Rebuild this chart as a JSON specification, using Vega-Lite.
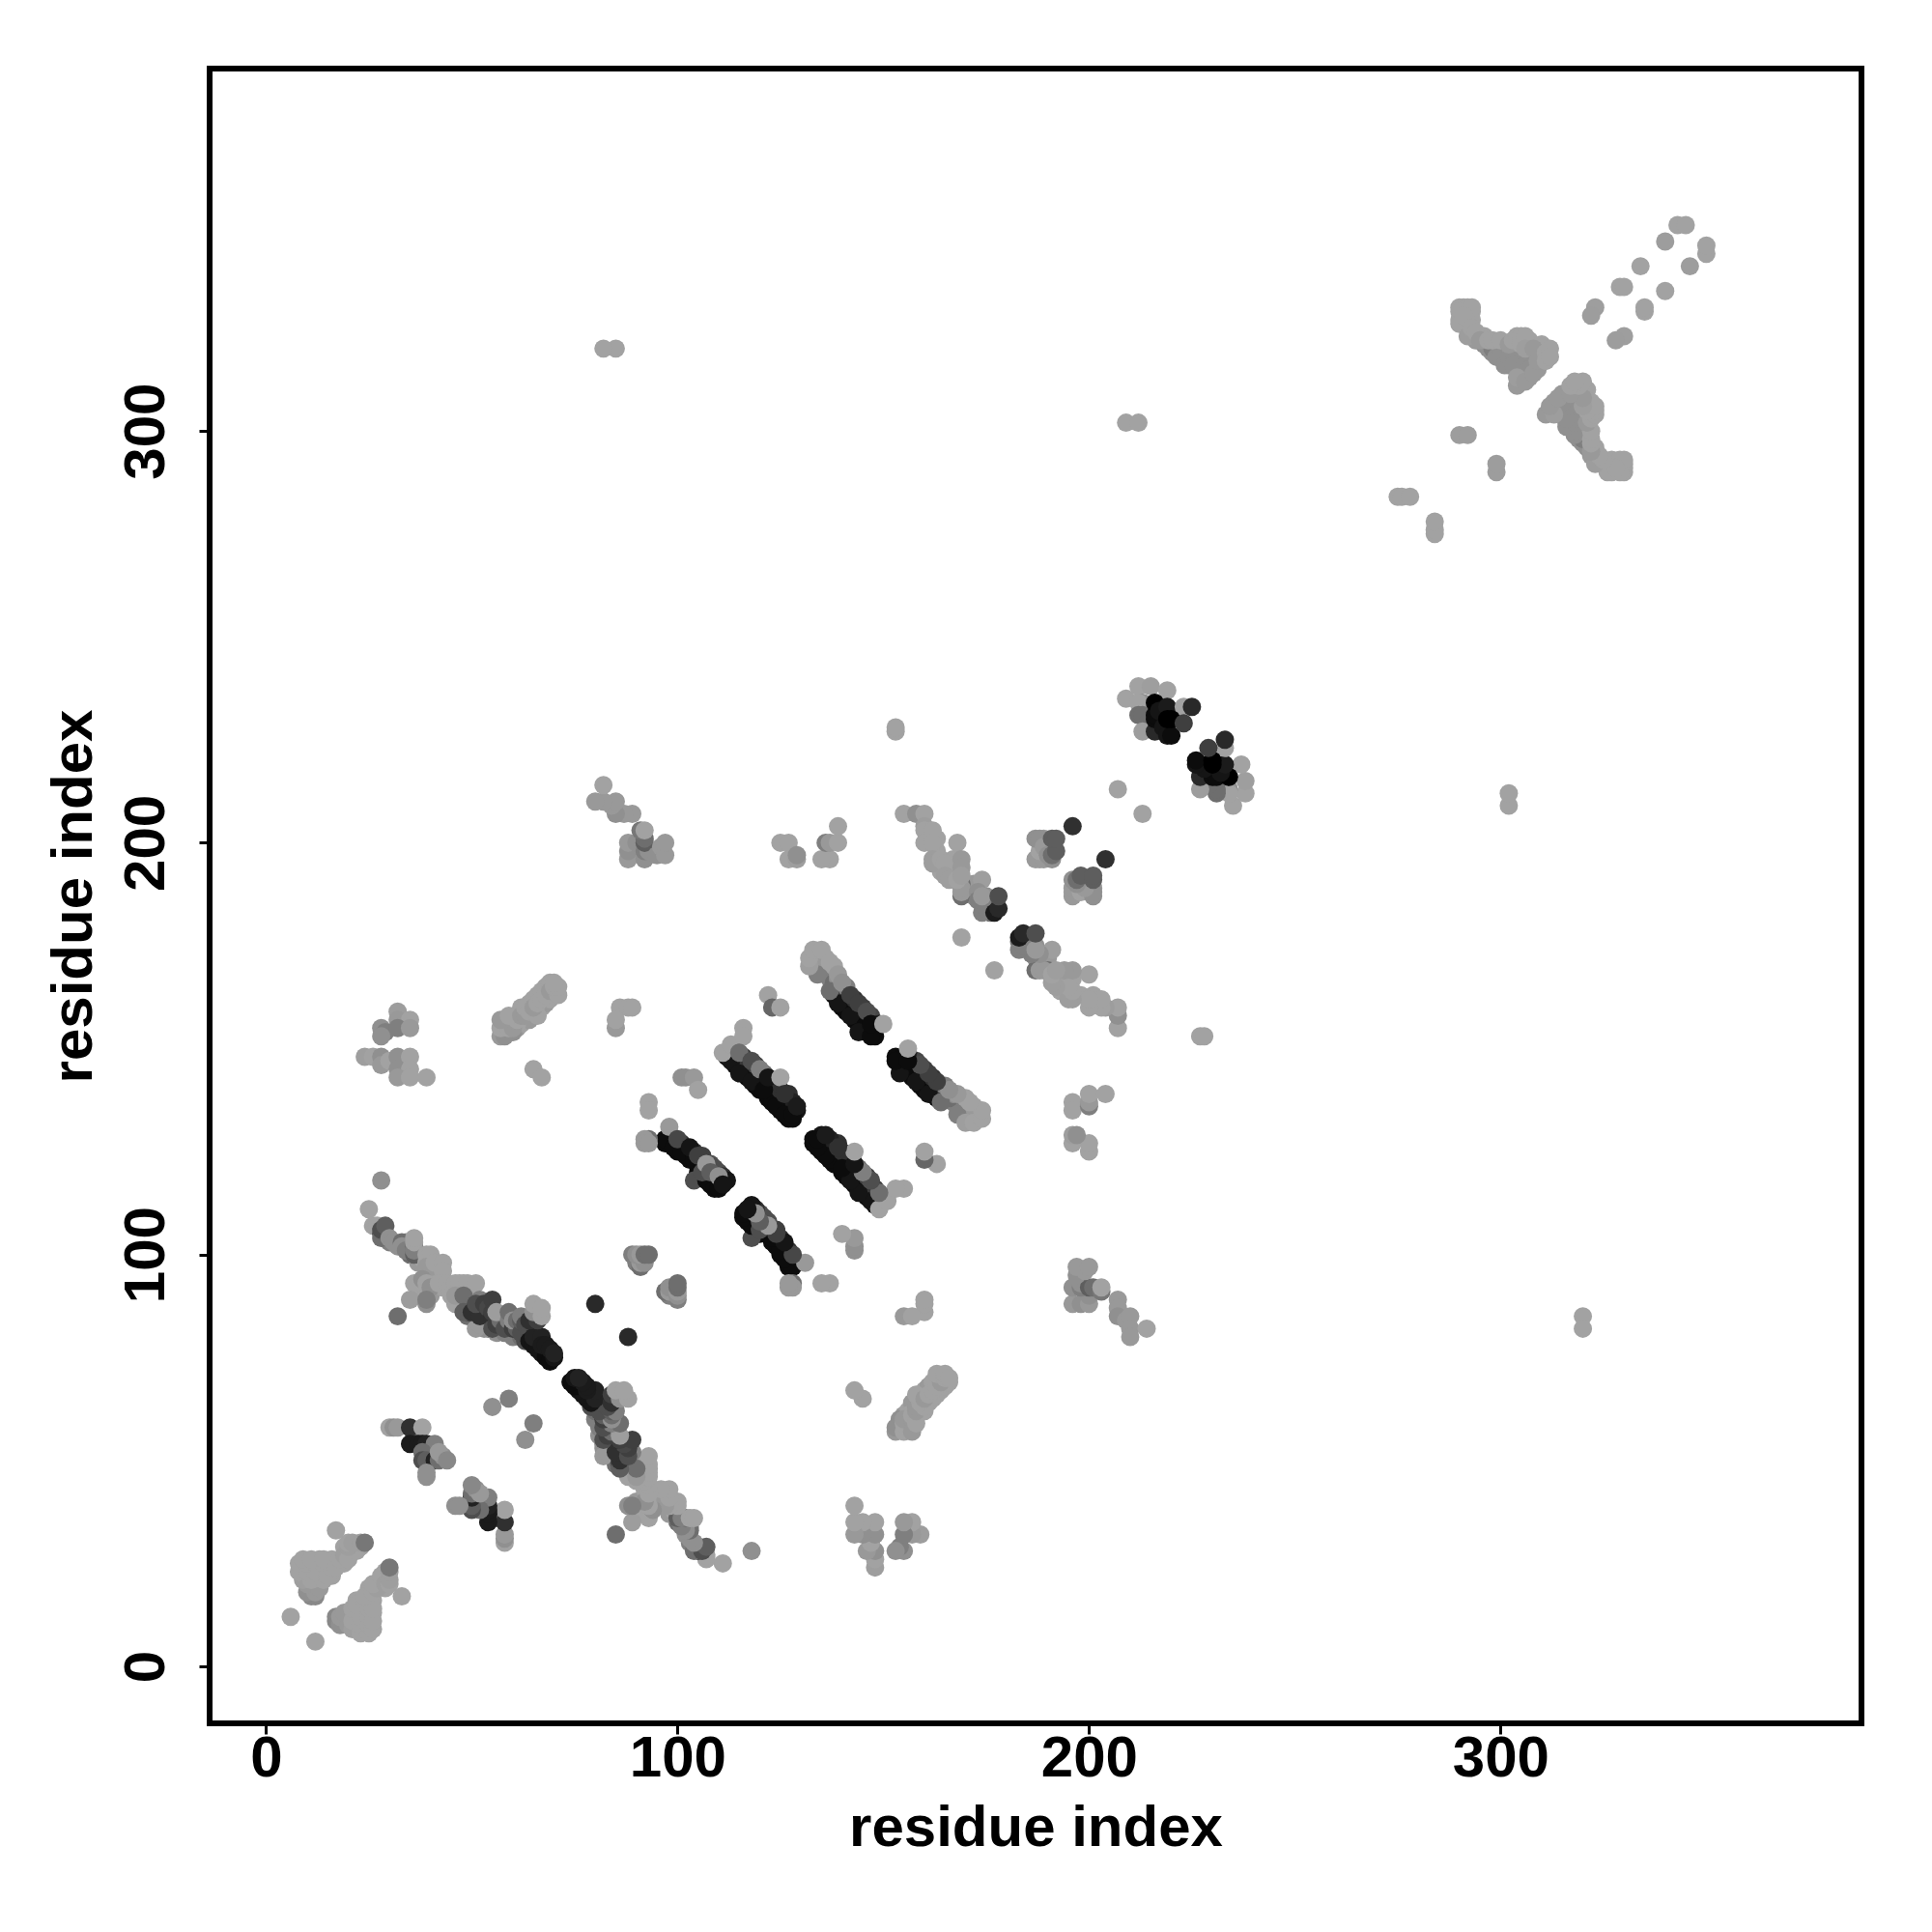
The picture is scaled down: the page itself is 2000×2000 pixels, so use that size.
{"$schema":"https://vega.github.io/schema/vega-lite/v6.json","autosize":{"type":"none"},"padding":{"left":217,"top":71,"right":73,"bottom":216},"width":1710,"height":1713,"background":"white","view":{"stroke":"black","strokeWidth":6,"fill":null},"config":{"font":"Liberation Sans"},
"data":{"values":[
{"x":98,"y":127,"s":0.95},{"x":127,"y":98,"s":0.95},{"x":100,"y":125,"s":0.95},{"x":125,"y":100,"s":0.95},{"x":102,"y":124,"s":0.95},{"x":124,"y":102,"s":0.95},{"x":103,"y":123,"s":0.95},{"x":123,"y":103,"s":0.95},{"x":105,"y":122,"s":0.95},{"x":122,"y":105,"s":0.95},{"x":105,"y":120,"s":0.95},{"x":120,"y":105,"s":0.95},{"x":106,"y":119,"s":0.95},{"x":119,"y":106,"s":0.95},{"x":107,"y":120,"s":0.95},{"x":120,"y":107,"s":0.95},{"x":109,"y":118,"s":0.95},{"x":118,"y":109,"s":0.95},{"x":110,"y":117,"s":0.95},{"x":117,"y":110,"s":0.95},
{"x":101,"y":127,"s":0.7},{"x":127,"y":101,"s":0.7},{"x":102,"y":126,"s":0.75},{"x":126,"y":102,"s":0.75},{"x":104,"y":125,"s":0.7},{"x":125,"y":104,"s":0.7},{"x":106,"y":124,"s":0.6},{"x":124,"y":106,"s":0.6},{"x":108,"y":122,"s":0.5},{"x":122,"y":108,"s":0.5},{"x":109,"y":121,"s":0.5},{"x":121,"y":109,"s":0.5},{"x":110,"y":120,"s":0.5},{"x":120,"y":110,"s":0.5},{"x":111,"y":119,"s":0.7},{"x":119,"y":111,"s":0.7},{"x":112,"y":118,"s":0.9},{"x":118,"y":112,"s":0.9},
{"x":112,"y":148,"s":0.95},{"x":148,"y":112,"s":0.95},{"x":114,"y":146,"s":0.95},{"x":146,"y":114,"s":0.95},{"x":116,"y":144,"s":0.95},{"x":144,"y":116,"s":0.95},{"x":117,"y":143,"s":0.95},{"x":143,"y":117,"s":0.95},{"x":119,"y":141,"s":0.95},{"x":141,"y":119,"s":0.95},{"x":120,"y":140,"s":0.95},{"x":140,"y":120,"s":0.95},{"x":122,"y":138,"s":0.95},{"x":138,"y":122,"s":0.95},{"x":123,"y":137,"s":0.95},{"x":137,"y":123,"s":0.95},{"x":125,"y":135,"s":0.95},{"x":135,"y":125,"s":0.95},{"x":127,"y":133,"s":0.95},{"x":133,"y":127,"s":0.95},{"x":128,"y":133,"s":0.95},{"x":133,"y":128,"s":0.95},
{"x":114,"y":149,"s":0.5},{"x":149,"y":114,"s":0.5},{"x":116,"y":148,"s":0.6},{"x":148,"y":116,"s":0.6},{"x":117,"y":147,"s":0.65},{"x":147,"y":117,"s":0.65},{"x":119,"y":146,"s":0.6},{"x":146,"y":119,"s":0.6},{"x":121,"y":144,"s":0.3},{"x":144,"y":121,"s":0.3},{"x":123,"y":142,"s":0.8},{"x":142,"y":123,"s":0.8},{"x":124,"y":141,"s":0.75},{"x":141,"y":124,"s":0.75},{"x":125,"y":140,"s":0.7},{"x":140,"y":125,"s":0.7},{"x":127,"y":139,"s":0.7},{"x":139,"y":127,"s":0.7},{"x":128,"y":137,"s":0.8},{"x":137,"y":128,"s":0.8},{"x":129,"y":135,"s":0.9},{"x":135,"y":129,"s":0.9},
{"x":138,"y":163,"s":0.95},{"x":163,"y":138,"s":0.95},{"x":140,"y":160,"s":0.95},{"x":160,"y":140,"s":0.95},{"x":141,"y":159,"s":0.95},{"x":159,"y":141,"s":0.95},{"x":143,"y":157,"s":0.95},{"x":157,"y":143,"s":0.95},{"x":145,"y":155,"s":0.95},{"x":155,"y":145,"s":0.95},{"x":146,"y":154,"s":0.95},{"x":154,"y":146,"s":0.95},{"x":148,"y":153,"s":0.95},{"x":153,"y":148,"s":0.95},{"x":148,"y":155,"s":0.95},{"x":155,"y":148,"s":0.95},
{"x":141,"y":164,"s":0.6},{"x":164,"y":141,"s":0.6},{"x":143,"y":162,"s":0.7},{"x":162,"y":143,"s":0.7},{"x":145,"y":160,"s":0.6},{"x":160,"y":145,"s":0.6},{"x":147,"y":158,"s":0.55},{"x":158,"y":147,"s":0.55},{"x":149,"y":156,"s":0.8},{"x":156,"y":149,"s":0.8},{"x":135,"y":170,"s":0.15},{"x":170,"y":135,"s":0.15},{"x":134,"y":171,"s":0.1},{"x":171,"y":134,"s":0.1},{"x":136,"y":168,"s":0.1},{"x":168,"y":136,"s":0.1},{"x":137,"y":167,"s":0.2},{"x":167,"y":137,"s":0.2},{"x":138,"y":166,"s":0.3},{"x":166,"y":138,"s":0.3},{"x":136,"y":172,"s":0},{"x":172,"y":136,"s":0},{"x":138,"y":170,"s":0},{"x":170,"y":138,"s":0},{"x":139,"y":167,"s":0.1},{"x":167,"y":139,"s":0.1},{"x":141,"y":165,"s":0.2},{"x":165,"y":141,"s":0.2},{"x":133,"y":171,"s":0.05},{"x":171,"y":133,"s":0.05},
{"x":49,"y":88,"s":0.4},{"x":88,"y":49,"s":0.4},{"x":50,"y":89,"s":0.3},{"x":89,"y":50,"s":0.3},{"x":49,"y":85,"s":0.3},{"x":85,"y":49,"s":0.3},{"x":49,"y":86,"s":0.6},{"x":86,"y":49,"s":0.6},{"x":51,"y":85,"s":0.5},{"x":85,"y":51,"s":0.5},{"x":53,"y":84,"s":0.2},{"x":84,"y":53,"s":0.2},{"x":54,"y":84,"s":0.3},{"x":84,"y":54,"s":0.3},{"x":54,"y":82,"s":0.2},{"x":82,"y":54,"s":0.2},{"x":53,"y":82,"s":0.1},{"x":82,"y":53,"s":0.1},{"x":56,"y":81,"s":0.1},{"x":81,"y":56,"s":0.1},{"x":57,"y":82,"s":0.05},{"x":82,"y":57,"s":0.05},{"x":58,"y":81,"s":0.2},{"x":81,"y":58,"s":0.2},{"x":59,"y":82,"s":0.5},{"x":82,"y":59,"s":0.5},{"x":60,"y":80,"s":0.2},{"x":80,"y":60,"s":0.2},{"x":62,"y":80,"s":0.3},{"x":80,"y":62,"s":0.3},{"x":63,"y":79,"s":0.5},{"x":79,"y":63,"s":0.5},{"x":63,"y":81,"s":0.7},{"x":81,"y":63,"s":0.7},{"x":65,"y":82,"s":0.6},{"x":82,"y":65,"s":0.6},
{"x":29,"y":105,"s":0.4},{"x":105,"y":29,"s":0.4},{"x":30,"y":103,"s":0.2},{"x":103,"y":30,"s":0.2},{"x":32,"y":102,"s":0.1},{"x":102,"y":32,"s":0.1},{"x":34,"y":103,"s":0.1},{"x":103,"y":34,"s":0.1},{"x":35,"y":100,"s":0.3},{"x":100,"y":35,"s":0.3},{"x":37,"y":100,"s":0.2},{"x":100,"y":37,"s":0.2},{"x":37,"y":98,"s":0.05},{"x":98,"y":37,"s":0.05},{"x":38,"y":99,"s":0},{"x":99,"y":38,"s":0},{"x":41,"y":96,"s":0},{"x":96,"y":41,"s":0},{"x":41,"y":97,"s":0},{"x":97,"y":41,"s":0},{"x":42,"y":95,"s":0},{"x":95,"y":42,"s":0},{"x":37,"y":90,"s":0},{"x":90,"y":37,"s":0},{"x":37,"y":93,"s":0},{"x":93,"y":37,"s":0},{"x":40,"y":90,"s":0.05},{"x":90,"y":40,"s":0.05},{"x":41,"y":94,"s":0},{"x":94,"y":41,"s":0},{"x":43,"y":92,"s":0},{"x":92,"y":43,"s":0},{"x":48,"y":93,"s":0},{"x":93,"y":48,"s":0},{"x":50,"y":92,"s":0},{"x":92,"y":50,"s":0},{"x":47,"y":88,"s":0.1},{"x":88,"y":47,"s":0.1},{"x":46,"y":88,"s":0},{"x":88,"y":46,"s":0},
{"x":13,"y":22,"s":0},{"x":22,"y":13,"s":0},{"x":13,"y":24,"s":0},{"x":24,"y":13,"s":0},{"x":11,"y":19,"s":0.05},{"x":19,"y":11,"s":0.05},{"x":9,"y":24,"s":0},{"x":24,"y":9,"s":0},{"x":11,"y":24,"s":0},{"x":24,"y":11,"s":0},{"x":15,"y":24,"s":0},{"x":24,"y":15,"s":0},{"x":13,"y":26,"s":0},{"x":26,"y":13,"s":0},{"x":12,"y":21,"s":0},{"x":21,"y":12,"s":0},{"x":12,"y":20,"s":0},{"x":20,"y":12,"s":0},{"x":14,"y":23,"s":0},{"x":23,"y":14,"s":0},{"x":16,"y":26,"s":0},{"x":26,"y":16,"s":0},{"x":19,"y":25,"s":0},{"x":25,"y":19,"s":0},{"x":19,"y":29,"s":0},{"x":29,"y":19,"s":0},{"x":21,"y":28,"s":0},{"x":28,"y":21,"s":0},{"x":23,"y":29,"s":0},{"x":29,"y":23,"s":0},{"x":10,"y":22,"s":0},{"x":22,"y":10,"s":0},{"x":16,"y":22,"s":0},{"x":22,"y":16,"s":0},
{"x":293,"y":327,"s":0},{"x":327,"y":293,"s":0},{"x":292,"y":326,"s":0},{"x":326,"y":292,"s":0},{"x":294,"y":322,"s":0.05},{"x":322,"y":294,"s":0.05},{"x":296,"y":323,"s":0},{"x":323,"y":296,"s":0},{"x":298,"y":319,"s":0.1},{"x":319,"y":298,"s":0.1},{"x":299,"y":321,"s":0.1},{"x":321,"y":299,"s":0.1},{"x":301,"y":318,"s":0.1},{"x":318,"y":301,"s":0.1},{"x":302,"y":316,"s":0.1},{"x":316,"y":302,"s":0.1},{"x":304,"y":318,"s":0.1},{"x":318,"y":304,"s":0.1},{"x":305,"y":317,"s":0.1},{"x":317,"y":305,"s":0.1},{"x":304,"y":315,"s":0.1},{"x":315,"y":304,"s":0.1},{"x":305,"y":313,"s":0.05},{"x":313,"y":305,"s":0.05},{"x":307,"y":313,"s":0.05},{"x":313,"y":307,"s":0.05},{"x":305,"y":320,"s":0.05},{"x":320,"y":305,"s":0.05},{"x":307,"y":318,"s":0.1},{"x":318,"y":307,"s":0.1},{"x":308,"y":316,"s":0.05},{"x":316,"y":308,"s":0.05},{"x":309,"y":315,"s":0.05},{"x":315,"y":309,"s":0.05},{"x":310,"y":318,"s":0},{"x":318,"y":310,"s":0},{"x":310,"y":321,"s":0},{"x":321,"y":310,"s":0},{"x":307,"y":322,"s":0},{"x":322,"y":307,"s":0},{"x":292,"y":328,"s":0},{"x":328,"y":292,"s":0},{"x":293,"y":329,"s":0},{"x":329,"y":293,"s":0},{"x":291,"y":326,"s":0},{"x":326,"y":291,"s":0},
{"x":189,"y":201,"s":0.05},{"x":201,"y":189,"s":0.05},{"x":190,"y":198,"s":0.1},{"x":198,"y":190,"s":0.1},{"x":188,"y":196,"s":0.02},{"x":196,"y":188,"s":0.02},{"x":191,"y":199,"s":0.3},{"x":199,"y":191,"s":0.3},
{"x":58,"y":155,"s":0.05},{"x":155,"y":58,"s":0.05},{"x":61,"y":155,"s":0.05},{"x":155,"y":61,"s":0.05},{"x":62,"y":156,"s":0},{"x":156,"y":62,"s":0},{"x":62,"y":160,"s":0},{"x":160,"y":62,"s":0},{"x":64,"y":161,"s":0},{"x":161,"y":64,"s":0},{"x":65,"y":162,"s":0},{"x":162,"y":65,"s":0},{"x":66,"y":163,"s":0},{"x":163,"y":66,"s":0},{"x":67,"y":164,"s":0},{"x":164,"y":67,"s":0},{"x":68,"y":165,"s":0},{"x":165,"y":68,"s":0},{"x":67,"y":160,"s":0},{"x":160,"y":67,"s":0},{"x":68,"y":161,"s":0.05},{"x":161,"y":68,"s":0.05},{"x":69,"y":162,"s":0},{"x":162,"y":69,"s":0},{"x":69,"y":166,"s":0},{"x":166,"y":69,"s":0},{"x":64,"y":157,"s":0.05},{"x":157,"y":64,"s":0.05},{"x":66,"y":160,"s":0.05},{"x":160,"y":66,"s":0.05},{"x":60,"y":154,"s":0.1},{"x":154,"y":60,"s":0.1},{"x":61,"y":156,"s":0},{"x":156,"y":61,"s":0},
{"x":163,"y":198,"s":0},{"x":198,"y":163,"s":0},{"x":164,"y":193,"s":0},{"x":193,"y":164,"s":0},{"x":167,"y":192,"s":0},{"x":192,"y":167,"s":0},{"x":167,"y":194,"s":0},{"x":194,"y":167,"s":0},{"x":167,"y":196,"s":0},{"x":196,"y":167,"s":0},{"x":163,"y":201,"s":0},{"x":201,"y":163,"s":0},{"x":161,"y":201,"s":0},{"x":201,"y":161,"s":0},{"x":166,"y":193,"s":0},{"x":193,"y":166,"s":0},{"x":170,"y":190,"s":0.05},{"x":190,"y":170,"s":0.05},{"x":171,"y":188,"s":0.05},{"x":188,"y":171,"s":0.05},{"x":172,"y":187,"s":0.1},{"x":187,"y":172,"s":0.1},{"x":172,"y":190,"s":0.05},{"x":190,"y":172,"s":0.05},{"x":175,"y":187,"s":0.1},{"x":187,"y":175,"s":0.1},{"x":175,"y":186,"s":0.2},{"x":186,"y":175,"s":0.2},{"x":176,"y":183,"s":0.3},{"x":183,"y":176,"s":0.3},
{"x":11,"y":17,"s":0.15},{"x":17,"y":11,"s":0.15},{"x":12,"y":17,"s":0.15},{"x":17,"y":12,"s":0.15},{"x":10,"y":18,"s":0.1},{"x":18,"y":10,"s":0.1},{"x":12,"y":18,"s":0.05},{"x":18,"y":12,"s":0.05},{"x":10,"y":20,"s":0.05},{"x":20,"y":10,"s":0.05},{"x":13,"y":19,"s":0.05},{"x":19,"y":13,"s":0.05},{"x":9,"y":21,"s":0.02},{"x":21,"y":9,"s":0.02},{"x":11,"y":21,"s":0},{"x":21,"y":11,"s":0},{"x":14,"y":21,"s":0},{"x":21,"y":14,"s":0},{"x":8,"y":23,"s":0},{"x":23,"y":8,"s":0},{"x":10,"y":23,"s":0},{"x":23,"y":10,"s":0},{"x":12,"y":23,"s":0},{"x":23,"y":12,"s":0},{"x":15,"y":22,"s":0},{"x":22,"y":15,"s":0},{"x":8,"y":25,"s":0},{"x":25,"y":8,"s":0},{"x":10,"y":25,"s":0},{"x":25,"y":10,"s":0},{"x":12,"y":25,"s":0},{"x":25,"y":12,"s":0},{"x":14,"y":25,"s":0},{"x":25,"y":14,"s":0},{"x":16,"y":24,"s":0},{"x":24,"y":16,"s":0},{"x":9,"y":26,"s":0},{"x":26,"y":9,"s":0},{"x":11,"y":26,"s":0},{"x":26,"y":11,"s":0},{"x":14,"y":26,"s":0},{"x":26,"y":14,"s":0},{"x":17,"y":24,"s":0},{"x":24,"y":17,"s":0},{"x":18,"y":26,"s":0},{"x":26,"y":18,"s":0},{"x":19,"y":27,"s":0.02},{"x":27,"y":19,"s":0.02},{"x":20,"y":26,"s":0},{"x":26,"y":20,"s":0},{"x":22,"y":28,"s":0},{"x":28,"y":22,"s":0},{"x":20,"y":29,"s":0.02},{"x":29,"y":20,"s":0.02},{"x":20,"y":30,"s":0},{"x":30,"y":20,"s":0},{"x":21,"y":30,"s":0.02},{"x":30,"y":21,"s":0.02},{"x":23,"y":30,"s":0.02},{"x":30,"y":23,"s":0.02},{"x":24,"y":30,"s":0.25},{"x":30,"y":24,"s":0.25},{"x":17,"y":33,"s":0},{"x":33,"y":17,"s":0},{"x":6,"y":12,"s":0},{"x":12,"y":6,"s":0},
{"x":30,"y":58,"s":0},{"x":58,"y":30,"s":0},{"x":31,"y":58,"s":0.1},{"x":58,"y":31,"s":0.1},{"x":32,"y":58,"s":0.05},{"x":58,"y":32,"s":0.05},{"x":36,"y":56,"s":0.3},{"x":56,"y":36,"s":0.3},{"x":35,"y":58,"s":0.7},{"x":58,"y":35,"s":0.7},{"x":38,"y":58,"s":0},{"x":58,"y":38,"s":0},{"x":35,"y":54,"s":0.85},{"x":54,"y":35,"s":0.85},{"x":37,"y":54,"s":0.85},{"x":54,"y":37,"s":0.85},{"x":38,"y":54,"s":0.85},{"x":54,"y":38,"s":0.85},{"x":39,"y":54,"s":0.8},{"x":54,"y":39,"s":0.8},{"x":41,"y":54,"s":0.2},{"x":54,"y":41,"s":0.2},{"x":38,"y":52,"s":0.3},{"x":52,"y":38,"s":0.3},{"x":38,"y":50,"s":0.5},{"x":50,"y":38,"s":0.5},{"x":39,"y":50,"s":0.4},{"x":50,"y":39,"s":0.4},{"x":41,"y":50,"s":0.8},{"x":50,"y":41,"s":0.8},{"x":42,"y":50,"s":0.3},{"x":50,"y":42,"s":0.3},{"x":43,"y":51,"s":0.1},{"x":51,"y":43,"s":0.1},{"x":42,"y":52,"s":0.05},{"x":52,"y":42,"s":0.05},{"x":44,"y":50,"s":0.15},{"x":50,"y":44,"s":0.15},{"x":39,"y":46,"s":0.1},{"x":46,"y":39,"s":0.1},{"x":39,"y":47,"s":0.1},{"x":47,"y":39,"s":0.1},
{"x":59,"y":65,"s":0.2},{"x":65,"y":59,"s":0.2},{"x":55,"y":63,"s":0.1},{"x":63,"y":55,"s":0.1},{"x":80,"y":88,"s":0.75},{"x":88,"y":80,"s":0.75},
{"x":25,"y":111,"s":0},{"x":111,"y":25,"s":0},{"x":26,"y":107,"s":0},{"x":107,"y":26,"s":0},{"x":27,"y":107,"s":0},{"x":107,"y":27,"s":0},{"x":28,"y":105,"s":0.5},{"x":105,"y":28,"s":0.5},{"x":28,"y":104,"s":0.3},{"x":104,"y":28,"s":0.3},{"x":28,"y":106,"s":0.5},{"x":106,"y":28,"s":0.5},{"x":29,"y":107,"s":0.4},{"x":107,"y":29,"s":0.4},{"x":30,"y":104,"s":0.1},{"x":104,"y":30,"s":0.1},{"x":31,"y":103,"s":0.1},{"x":103,"y":31,"s":0.1},{"x":33,"y":103,"s":0.3},{"x":103,"y":33,"s":0.3},{"x":33,"y":102,"s":0.1},{"x":102,"y":33,"s":0.1},{"x":34,"y":101,"s":0.2},{"x":101,"y":34,"s":0.2},{"x":36,"y":100,"s":0.4},{"x":100,"y":36,"s":0.4},{"x":36,"y":102,"s":0.3},{"x":102,"y":36,"s":0.3},{"x":36,"y":101,"s":0.2},{"x":101,"y":36,"s":0.2},{"x":36,"y":103,"s":0},{"x":103,"y":36,"s":0},{"x":36,"y":104,"s":0},{"x":104,"y":36,"s":0},{"x":39,"y":100,"s":0},{"x":100,"y":39,"s":0},{"x":40,"y":100,"s":0},{"x":100,"y":40,"s":0},{"x":39,"y":98,"s":0},{"x":98,"y":39,"s":0},{"x":40,"y":97,"s":0.05},{"x":97,"y":40,"s":0.05},{"x":39,"y":97,"s":0.05},{"x":97,"y":39,"s":0.05},{"x":41,"y":98,"s":0},{"x":98,"y":41,"s":0},{"x":43,"y":98,"s":0},{"x":98,"y":43,"s":0},{"x":43,"y":96,"s":0},{"x":96,"y":43,"s":0},{"x":36,"y":93,"s":0},{"x":93,"y":36,"s":0},{"x":38,"y":94,"s":0.1},{"x":94,"y":38,"s":0.1},{"x":39,"y":93,"s":0},{"x":93,"y":39,"s":0},{"x":40,"y":92,"s":0.1},{"x":92,"y":40,"s":0.1},{"x":42,"y":93,"s":0},{"x":93,"y":42,"s":0},{"x":44,"y":93,"s":0},{"x":93,"y":44,"s":0},{"x":45,"y":92,"s":0},{"x":92,"y":45,"s":0},{"x":46,"y":93,"s":0},{"x":93,"y":46,"s":0},{"x":47,"y":93,"s":0},{"x":93,"y":47,"s":0},{"x":49,"y":93,"s":0},{"x":93,"y":49,"s":0},{"x":51,"y":93,"s":0},{"x":93,"y":51,"s":0},{"x":35,"y":89,"s":0.03},{"x":89,"y":35,"s":0.03},{"x":39,"y":88,"s":0.1},{"x":88,"y":39,"s":0.1},{"x":39,"y":89,"s":0.2},{"x":89,"y":39,"s":0.2},{"x":32,"y":85,"s":0.3},{"x":85,"y":32,"s":0.3},{"x":28,"y":118,"s":0.1},{"x":118,"y":28,"s":0.1},{"x":45,"y":90,"s":0},{"x":90,"y":45,"s":0},{"x":46,"y":90,"s":0.05},{"x":90,"y":46,"s":0.05},
{"x":48,"y":90,"s":0.3},{"x":90,"y":48,"s":0.3},{"x":51,"y":82,"s":0.05},{"x":82,"y":51,"s":0.05},{"x":52,"y":83,"s":0.05},{"x":83,"y":52,"s":0.05},{"x":48,"y":86,"s":0.4},{"x":86,"y":48,"s":0.4},{"x":50,"y":86,"s":0.7},{"x":86,"y":50,"s":0.7},{"x":52,"y":86,"s":0.7},{"x":86,"y":52,"s":0.7},{"x":52,"y":85,"s":0.7},{"x":85,"y":52,"s":0.7},{"x":52,"y":89,"s":0.2},{"x":89,"y":52,"s":0.2},{"x":51,"y":88,"s":0.5},{"x":88,"y":51,"s":0.5},{"x":53,"y":88,"s":0.6},{"x":88,"y":53,"s":0.6},{"x":54,"y":87,"s":0.55},{"x":87,"y":54,"s":0.55},{"x":55,"y":89,"s":0.6},{"x":89,"y":55,"s":0.6},{"x":55,"y":85,"s":0.7},{"x":85,"y":55,"s":0.7},{"x":55,"y":82,"s":0.5},{"x":82,"y":55,"s":0.5},{"x":56,"y":83,"s":0.6},{"x":83,"y":56,"s":0.6},{"x":55,"y":86,"s":0.6},{"x":86,"y":55,"s":0.6},{"x":57,"y":85,"s":0.2},{"x":85,"y":57,"s":0.2},{"x":57,"y":84,"s":0.3},{"x":84,"y":57,"s":0.3},{"x":58,"y":82,"s":0.5},{"x":82,"y":58,"s":0.5},{"x":56,"y":86,"s":0.03},{"x":86,"y":56,"s":0.03},{"x":59,"y":84,"s":0.2},{"x":84,"y":59,"s":0.2},{"x":59,"y":86,"s":0.3},{"x":86,"y":59,"s":0.3},{"x":60,"y":82,"s":0.6},{"x":82,"y":60,"s":0.6},{"x":61,"y":82,"s":0.4},{"x":82,"y":61,"s":0.4},{"x":60,"y":84,"s":0.1},{"x":84,"y":60,"s":0.1},{"x":61,"y":84,"s":0.3},{"x":84,"y":61,"s":0.3},{"x":62,"y":81,"s":0.5},{"x":81,"y":62,"s":0.5},{"x":62,"y":84,"s":0.4},{"x":84,"y":62,"s":0.4},{"x":62,"y":85,"s":0.2},{"x":85,"y":62,"s":0.2},{"x":63,"y":83,"s":0.5},{"x":83,"y":63,"s":0.5},
{"x":64,"y":81,"s":0.5},{"x":81,"y":64,"s":0.5},{"x":64,"y":79,"s":0.9},{"x":79,"y":64,"s":0.9},{"x":65,"y":78,"s":0.9},{"x":78,"y":65,"s":0.9},{"x":66,"y":77,"s":0.9},{"x":77,"y":66,"s":0.9},{"x":67,"y":76,"s":0.9},{"x":76,"y":67,"s":0.9},{"x":68,"y":75,"s":0.95},{"x":75,"y":68,"s":0.95},{"x":69,"y":74,"s":0.95},{"x":74,"y":69,"s":0.95},{"x":66,"y":79,"s":0.9},{"x":79,"y":66,"s":0.9},{"x":65,"y":80,"s":0.8},{"x":80,"y":65,"s":0.8},{"x":67,"y":80,"s":0.8},{"x":80,"y":67,"s":0.8},{"x":67,"y":78,"s":0.85},{"x":78,"y":67,"s":0.85},{"x":68,"y":78,"s":0.85},{"x":78,"y":68,"s":0.85},{"x":69,"y":77,"s":0.85},{"x":77,"y":69,"s":0.85},{"x":70,"y":75,"s":0.9},{"x":75,"y":70,"s":0.9},{"x":70,"y":76,"s":0.8},{"x":76,"y":70,"s":0.8},{"x":64,"y":84,"s":0.7},{"x":84,"y":64,"s":0.7},{"x":66,"y":84,"s":0.6},{"x":84,"y":66,"s":0.6},{"x":65,"y":86,"s":0.1},{"x":86,"y":65,"s":0.1},{"x":67,"y":85,"s":0},{"x":85,"y":67,"s":0},{"x":65,"y":88,"s":0},{"x":88,"y":65,"s":0},{"x":67,"y":87,"s":0},{"x":87,"y":67,"s":0},
{"x":89,"y":100,"s":0.2},{"x":100,"y":89,"s":0.2},{"x":90,"y":98,"s":0.2},{"x":98,"y":90,"s":0.2},{"x":91,"y":97,"s":0.3},{"x":97,"y":91,"s":0.3},{"x":91,"y":98,"s":0.05},{"x":98,"y":91,"s":0.05},{"x":92,"y":98,"s":0.1},{"x":98,"y":92,"s":0.1},{"x":90,"y":100,"s":0.1},{"x":100,"y":90,"s":0.1},{"x":91,"y":100,"s":0.05},{"x":100,"y":91,"s":0.05},{"x":92,"y":100,"s":0.3},{"x":100,"y":92,"s":0.3},{"x":93,"y":100,"s":0.3},{"x":100,"y":93,"s":0.3},
{"x":97,"y":127,"s":0.95},{"x":127,"y":97,"s":0.95},{"x":97,"y":128,"s":0.95},{"x":128,"y":97,"s":0.95},{"x":99,"y":126,"s":0.95},{"x":126,"y":99,"s":0.95},{"x":101,"y":125,"s":0.95},{"x":125,"y":101,"s":0.95},{"x":104,"y":123,"s":0.95},{"x":123,"y":104,"s":0.95},{"x":106,"y":122,"s":0.95},{"x":122,"y":106,"s":0.95},{"x":107,"y":121,"s":0.95},{"x":121,"y":107,"s":0.95},{"x":104,"y":118,"s":0.5},{"x":118,"y":104,"s":0.5},{"x":107,"y":118,"s":0.95},{"x":118,"y":107,"s":0.95},{"x":108,"y":117,"s":0.95},{"x":117,"y":108,"s":0.95},{"x":109,"y":116,"s":0.95},{"x":116,"y":109,"s":0.95},{"x":110,"y":116,"s":0.95},{"x":116,"y":110,"s":0.95},{"x":98,"y":131,"s":0.05},{"x":131,"y":98,"s":0.05},{"x":100,"y":128,"s":0.55},{"x":128,"y":100,"s":0.55},{"x":103,"y":126,"s":0.9},{"x":126,"y":103,"s":0.9},{"x":105,"y":124,"s":0.6},{"x":124,"y":105,"s":0.6},{"x":106,"y":120,"s":0.5},{"x":120,"y":106,"s":0.5},{"x":107,"y":122,"s":0.05},{"x":122,"y":107,"s":0.05},{"x":108,"y":120,"s":0.4},{"x":120,"y":108,"s":0.4},{"x":110,"y":119,"s":0.1},{"x":119,"y":110,"s":0.1},{"x":111,"y":117,"s":0.9},{"x":117,"y":111,"s":0.9},
{"x":93,"y":128,"s":0.3},{"x":128,"y":93,"s":0.3},{"x":92,"y":128,"s":0.05},{"x":128,"y":92,"s":0.05},{"x":92,"y":127,"s":0.05},{"x":127,"y":92,"s":0.05},{"x":93,"y":127,"s":0.05},{"x":127,"y":93,"s":0.05},{"x":93,"y":137,"s":0},{"x":137,"y":93,"s":0},{"x":93,"y":135,"s":0},{"x":135,"y":93,"s":0},{"x":101,"y":143,"s":0.1},{"x":143,"y":101,"s":0.1},{"x":102,"y":143,"s":0.1},{"x":143,"y":102,"s":0.1},{"x":104,"y":143,"s":0.05},{"x":143,"y":104,"s":0.05},{"x":105,"y":140,"s":0},{"x":140,"y":105,"s":0},
{"x":113,"y":147,"s":0.9},{"x":147,"y":113,"s":0.9},{"x":115,"y":144,"s":0.9},{"x":144,"y":115,"s":0.9},{"x":118,"y":142,"s":0.9},{"x":142,"y":118,"s":0.9},{"x":121,"y":140,"s":0.95},{"x":140,"y":121,"s":0.95},{"x":124,"y":136,"s":0.95},{"x":136,"y":124,"s":0.95},{"x":126,"y":134,"s":0.95},{"x":134,"y":126,"s":0.95},{"x":111,"y":149,"s":0},{"x":149,"y":111,"s":0},{"x":113,"y":151,"s":0},{"x":151,"y":113,"s":0},{"x":116,"y":155,"s":0},{"x":155,"y":116,"s":0},{"x":116,"y":153,"s":0},{"x":153,"y":116,"s":0},{"x":115,"y":149,"s":0.3},{"x":149,"y":115,"s":0.3},{"x":118,"y":147,"s":0.5},{"x":147,"y":118,"s":0.5},{"x":120,"y":145,"s":0.2},{"x":145,"y":120,"s":0.2},{"x":122,"y":143,"s":0.9},{"x":143,"y":122,"s":0.9},{"x":125,"y":143,"s":0},{"x":143,"y":125,"s":0},{"x":126,"y":139,"s":0.7},{"x":139,"y":126,"s":0.7},{"x":128,"y":134,"s":0.95},{"x":134,"y":128,"s":0.95},{"x":129,"y":136,"s":0.85},{"x":136,"y":129,"s":0.85},
{"x":122,"y":163,"s":0},{"x":163,"y":122,"s":0},{"x":123,"y":160,"s":0.35},{"x":160,"y":123,"s":0.35},{"x":125,"y":160,"s":0},{"x":160,"y":125,"s":0},{"x":86,"y":160,"s":0},{"x":160,"y":86,"s":0},{"x":88,"y":160,"s":0},{"x":160,"y":88,"s":0},{"x":85,"y":155,"s":0.05},{"x":155,"y":85,"s":0.05},{"x":85,"y":157,"s":0},{"x":157,"y":85,"s":0},{"x":89,"y":160,"s":0},{"x":160,"y":89,"s":0},
{"x":139,"y":161,"s":0.9},{"x":161,"y":139,"s":0.9},{"x":142,"y":158,"s":0.9},{"x":158,"y":142,"s":0.9},{"x":144,"y":154,"s":0.9},{"x":154,"y":144,"s":0.9},{"x":147,"y":153,"s":0.95},{"x":153,"y":147,"s":0.95},{"x":137,"y":164,"s":0.3},{"x":164,"y":137,"s":0.3},{"x":134,"y":168,"s":0.2},{"x":168,"y":134,"s":0.2},{"x":132,"y":170,"s":0.02},{"x":170,"y":132,"s":0.02},{"x":132,"y":172,"s":0},{"x":172,"y":132,"s":0},{"x":133,"y":174,"s":0},{"x":174,"y":133,"s":0},{"x":135,"y":174,"s":0},{"x":174,"y":135,"s":0},{"x":137,"y":171,"s":0},{"x":171,"y":137,"s":0},{"x":139,"y":168,"s":0.05},{"x":168,"y":139,"s":0.05},{"x":140,"y":166,"s":0.1},{"x":166,"y":140,"s":0.1},{"x":142,"y":163,"s":0.6},{"x":163,"y":142,"s":0.6},{"x":144,"y":161,"s":0.6},{"x":161,"y":144,"s":0.6},{"x":146,"y":159,"s":0.5},{"x":159,"y":146,"s":0.5},{"x":147,"y":156,"s":0.95},{"x":156,"y":147,"s":0.95},{"x":150,"y":156,"s":0},{"x":156,"y":150,"s":0},
{"x":169,"y":177,"s":0},{"x":177,"y":169,"s":0},{"x":137,"y":196,"s":0},{"x":196,"y":137,"s":0},{"x":135,"y":196,"s":0},{"x":196,"y":135,"s":0},{"x":136,"y":200,"s":0.2},{"x":200,"y":136,"s":0.2},{"x":137,"y":200,"s":0.05},{"x":200,"y":137,"s":0.05},{"x":139,"y":200,"s":0},{"x":200,"y":139,"s":0},{"x":139,"y":204,"s":0},{"x":204,"y":139,"s":0},{"x":125,"y":200,"s":0},{"x":200,"y":125,"s":0},{"x":127,"y":200,"s":0},{"x":200,"y":127,"s":0},{"x":127,"y":196,"s":0},{"x":196,"y":127,"s":0},{"x":129,"y":196,"s":0.02},{"x":196,"y":129,"s":0.02},{"x":129,"y":197,"s":0.1},{"x":197,"y":129,"s":0.1},
{"x":88,"y":196,"s":0.05},{"x":196,"y":88,"s":0.05},{"x":88,"y":198,"s":0.1},{"x":198,"y":88,"s":0.1},{"x":88,"y":200,"s":0.05},{"x":200,"y":88,"s":0.05},{"x":90,"y":200,"s":0.1},{"x":200,"y":90,"s":0.1},{"x":92,"y":196,"s":0.1},{"x":196,"y":92,"s":0.1},{"x":92,"y":198,"s":0.2},{"x":198,"y":92,"s":0.2},{"x":93,"y":198,"s":0.1},{"x":198,"y":93,"s":0.1},{"x":92,"y":200,"s":0.4},{"x":200,"y":92,"s":0.4},{"x":92,"y":201,"s":0.3},{"x":201,"y":92,"s":0.3},{"x":91,"y":203,"s":0.25},{"x":203,"y":91,"s":0.25},{"x":92,"y":203,"s":0},{"x":203,"y":92,"s":0},{"x":95,"y":197,"s":0.1},{"x":197,"y":95,"s":0.1},{"x":96,"y":199,"s":0.05},{"x":199,"y":96,"s":0.05},{"x":97,"y":197,"s":0.05},{"x":197,"y":97,"s":0.05},{"x":97,"y":200,"s":0.05},{"x":200,"y":97,"s":0.05},{"x":89,"y":207,"s":0.05},{"x":207,"y":89,"s":0.05},{"x":87,"y":207,"s":0.05},{"x":207,"y":87,"s":0.05},{"x":85,"y":207,"s":0.1},{"x":207,"y":85,"s":0.1},{"x":84,"y":209,"s":0.05},{"x":209,"y":84,"s":0.05},{"x":85,"y":210,"s":0.05},{"x":210,"y":85,"s":0.05},{"x":82,"y":210,"s":0.05},{"x":210,"y":82,"s":0.05},{"x":80,"y":210,"s":0.05},{"x":210,"y":80,"s":0.05},{"x":82,"y":214,"s":0},{"x":214,"y":82,"s":0},
{"x":85,"y":320,"s":0},{"x":320,"y":85,"s":0},{"x":82,"y":320,"s":0},{"x":320,"y":82,"s":0},{"x":209,"y":302,"s":0},{"x":302,"y":209,"s":0},{"x":212,"y":302,"s":0},{"x":302,"y":212,"s":0},{"x":153,"y":227,"s":0},{"x":227,"y":153,"s":0},{"x":153,"y":228,"s":0},{"x":228,"y":153,"s":0},
{"x":209,"y":235,"s":0},{"x":235,"y":209,"s":0},{"x":212,"y":238,"s":0},{"x":238,"y":212,"s":0},{"x":215,"y":238,"s":0.02},{"x":238,"y":215,"s":0.02},{"x":219,"y":237,"s":0},{"x":237,"y":219,"s":0},{"x":213,"y":234,"s":0.1},{"x":234,"y":213,"s":0.1},{"x":212,"y":234,"s":0},{"x":234,"y":212,"s":0},{"x":212,"y":231,"s":0.3},{"x":231,"y":212,"s":0.3},{"x":213,"y":231,"s":0.3},{"x":231,"y":213,"s":0.3},{"x":214,"y":229,"s":0.3},{"x":229,"y":214,"s":0.3},{"x":213,"y":227,"s":0.03},{"x":227,"y":213,"s":0.03},{"x":216,"y":227,"s":0.75},{"x":227,"y":216,"s":0.75},{"x":216,"y":230,"s":0.95},{"x":230,"y":216,"s":0.95},{"x":216,"y":231,"s":0.95},{"x":231,"y":216,"s":0.95},{"x":216,"y":234,"s":1},{"x":234,"y":216,"s":1},{"x":218,"y":228,"s":0.9},{"x":228,"y":218,"s":0.9},{"x":217,"y":232,"s":0.9},{"x":232,"y":217,"s":0.9},{"x":219,"y":233,"s":0.85},{"x":233,"y":219,"s":0.85},{"x":219,"y":226,"s":0.9},{"x":226,"y":219,"s":0.9},{"x":220,"y":226,"s":0.95},{"x":226,"y":220,"s":0.95},{"x":223,"y":233,"s":0},{"x":233,"y":223,"s":0},{"x":219,"y":230,"s":1},{"x":230,"y":219,"s":1},{"x":220,"y":230,"s":1},{"x":230,"y":220,"s":1},{"x":223,"y":229,"s":0.6},{"x":229,"y":223,"s":0.6},{"x":225,"y":233,"s":0.75},{"x":233,"y":225,"s":0.75},
{"x":207,"y":213,"s":0},{"x":213,"y":207,"s":0},{"x":196,"y":204,"s":0.7},{"x":204,"y":196,"s":0.7},
{"x":187,"y":196,"s":0.05},{"x":196,"y":187,"s":0.05},{"x":189,"y":196,"s":0.05},{"x":196,"y":189,"s":0.05},{"x":188,"y":198,"s":0},{"x":198,"y":188,"s":0},{"x":187,"y":201,"s":0.1},{"x":201,"y":187,"s":0.1},{"x":188,"y":201,"s":0.1},{"x":201,"y":188,"s":0.1},{"x":189,"y":199,"s":0.05},{"x":199,"y":189,"s":0.05},{"x":191,"y":196,"s":0.1},{"x":196,"y":191,"s":0.1},{"x":190,"y":197,"s":0.1},{"x":197,"y":190,"s":0.1},{"x":191,"y":197,"s":0.3},{"x":197,"y":191,"s":0.3},{"x":192,"y":198,"s":0.4},{"x":198,"y":192,"s":0.4},{"x":191,"y":201,"s":0.4},{"x":201,"y":191,"s":0.4},{"x":192,"y":201,"s":0.4},{"x":201,"y":192,"s":0.4},
{"x":169,"y":187,"s":0.3},{"x":187,"y":169,"s":0.3},{"x":169,"y":188,"s":0.05},{"x":188,"y":169,"s":0.05},{"x":169,"y":190,"s":0.3},{"x":190,"y":169,"s":0.3},{"x":169,"y":189,"s":0.05},{"x":189,"y":169,"s":0.05},{"x":155,"y":207,"s":0},{"x":207,"y":155,"s":0},{"x":158,"y":207,"s":0.1},{"x":207,"y":158,"s":0.1},{"x":160,"y":207,"s":0},{"x":207,"y":160,"s":0},{"x":160,"y":204,"s":0.03},{"x":204,"y":160,"s":0.03},{"x":160,"y":203,"s":0},{"x":203,"y":160,"s":0},{"x":162,"y":203,"s":0},{"x":203,"y":162,"s":0},{"x":160,"y":200,"s":0},{"x":200,"y":160,"s":0},{"x":162,"y":200,"s":0},{"x":200,"y":162,"s":0},{"x":168,"y":200,"s":0},{"x":200,"y":168,"s":0},{"x":162,"y":196,"s":0.03},{"x":196,"y":162,"s":0.03},{"x":162,"y":195,"s":0.03},{"x":195,"y":162,"s":0.03},{"x":164,"y":196,"s":0},{"x":196,"y":164,"s":0},{"x":165,"y":195,"s":0},{"x":195,"y":165,"s":0},{"x":169,"y":196,"s":0.05},{"x":196,"y":169,"s":0.05},{"x":165,"y":192,"s":0.02},{"x":192,"y":165,"s":0.02},{"x":166,"y":191,"s":0.02},{"x":191,"y":166,"s":0.02},{"x":168,"y":191,"s":0},{"x":191,"y":168,"s":0},{"x":169,"y":194,"s":0.05},{"x":194,"y":169,"s":0.05},{"x":169,"y":192,"s":0.02},{"x":192,"y":169,"s":0.02},{"x":174,"y":191,"s":0.02},{"x":191,"y":174,"s":0.02},{"x":173,"y":188,"s":0.1},{"x":188,"y":173,"s":0.1},{"x":173,"y":186,"s":0.2},{"x":186,"y":173,"s":0.2},{"x":174,"y":183,"s":0.2},{"x":183,"y":174,"s":0.2},{"x":175,"y":184,"s":0.2},{"x":184,"y":175,"s":0.2},{"x":174,"y":187,"s":0.05},{"x":187,"y":174,"s":0.05},{"x":177,"y":183,"s":0.85},{"x":183,"y":177,"s":0.85},{"x":178,"y":184,"s":0.75},{"x":184,"y":178,"s":0.75},{"x":178,"y":187,"s":0.5},{"x":187,"y":178,"s":0.5},
{"x":65,"y":145,"s":0},{"x":145,"y":65,"s":0},{"x":67,"y":143,"s":0},{"x":143,"y":67,"s":0},
{"x":57,"y":153,"s":0.05},{"x":153,"y":57,"s":0.05},{"x":58,"y":153,"s":0.1},{"x":153,"y":58,"s":0.1},{"x":57,"y":155,"s":0},{"x":155,"y":57,"s":0},{"x":59,"y":155,"s":0},{"x":155,"y":59,"s":0},{"x":60,"y":155,"s":0.05},{"x":155,"y":60,"s":0.05},{"x":57,"y":157,"s":0.05},{"x":157,"y":57,"s":0.05},{"x":60,"y":157,"s":0.05},{"x":157,"y":60,"s":0.05},{"x":61,"y":157,"s":0},{"x":157,"y":61,"s":0},{"x":59,"y":158,"s":0},{"x":158,"y":59,"s":0},{"x":62,"y":158,"s":0.05},{"x":158,"y":62,"s":0.05},{"x":63,"y":158,"s":0.05},{"x":158,"y":63,"s":0.05},{"x":63,"y":160,"s":0},{"x":160,"y":63,"s":0},{"x":64,"y":159,"s":0},{"x":159,"y":64,"s":0},{"x":66,"y":158,"s":0},{"x":158,"y":66,"s":0},{"x":65,"y":160,"s":0.05},{"x":160,"y":65,"s":0.05},{"x":66,"y":161,"s":0},{"x":161,"y":66,"s":0},{"x":67,"y":162,"s":0},{"x":162,"y":67,"s":0},{"x":68,"y":163,"s":0},{"x":163,"y":68,"s":0},{"x":69,"y":164,"s":0.05},{"x":164,"y":69,"s":0.05},{"x":71,"y":163,"s":0},{"x":163,"y":71,"s":0},{"x":70,"y":165,"s":0},{"x":165,"y":70,"s":0},{"x":71,"y":165,"s":0},{"x":165,"y":71,"s":0},{"x":70,"y":166,"s":0},{"x":166,"y":70,"s":0},
{"x":32,"y":159,"s":0.03},{"x":159,"y":32,"s":0.03},{"x":32,"y":157,"s":0.05},{"x":157,"y":32,"s":0.05},{"x":35,"y":157,"s":0},{"x":157,"y":35,"s":0},{"x":28,"y":155,"s":0.1},{"x":155,"y":28,"s":0.1},{"x":29,"y":154,"s":0.2},{"x":154,"y":29,"s":0.2},{"x":32,"y":155,"s":0.2},{"x":155,"y":32,"s":0.2},{"x":35,"y":155,"s":0.05},{"x":155,"y":35,"s":0.05},{"x":28,"y":153,"s":0.1},{"x":153,"y":28,"s":0.1},{"x":24,"y":148,"s":0.02},{"x":148,"y":24,"s":0.02},{"x":26,"y":148,"s":0},{"x":148,"y":26,"s":0},{"x":28,"y":148,"s":0.1},{"x":148,"y":28,"s":0.1},{"x":28,"y":146,"s":0.05},{"x":146,"y":28,"s":0.05},{"x":30,"y":147,"s":0},{"x":147,"y":30,"s":0},{"x":32,"y":148,"s":0.1},{"x":148,"y":32,"s":0.1},{"x":35,"y":148,"s":0},{"x":148,"y":35,"s":0},{"x":32,"y":145,"s":0.1},{"x":145,"y":32,"s":0.1},{"x":35,"y":145,"s":0},{"x":145,"y":35,"s":0},{"x":32,"y":143,"s":0.05},{"x":143,"y":32,"s":0.05},{"x":35,"y":143,"s":0},{"x":143,"y":35,"s":0},{"x":39,"y":143,"s":0},{"x":143,"y":39,"s":0},
{"x":343,"y":350,"s":0},{"x":350,"y":343,"s":0},{"x":345,"y":350,"s":0},{"x":350,"y":345,"s":0},{"x":340,"y":346,"s":0.03},{"x":346,"y":340,"s":0.03},{"x":334,"y":340,"s":0},{"x":340,"y":334,"s":0},{"x":329,"y":335,"s":0},{"x":335,"y":329,"s":0},{"x":330,"y":335,"s":0},{"x":335,"y":330,"s":0},{"x":323,"y":330,"s":0.02},{"x":330,"y":323,"s":0.02},{"x":322,"y":328,"s":0.03},{"x":328,"y":322,"s":0.03},
{"x":301,"y":320,"s":0.3},{"x":320,"y":301,"s":0.3},{"x":296,"y":321,"s":0.1},{"x":321,"y":296,"s":0.1},{"x":297,"y":320,"s":0.1},{"x":320,"y":297,"s":0.1},{"x":298,"y":320,"s":0.2},{"x":320,"y":298,"s":0.2},{"x":299,"y":318,"s":0.1},{"x":318,"y":299,"s":0.1},{"x":300,"y":320,"s":0.1},{"x":320,"y":300,"s":0.1},{"x":300,"y":318,"s":0.1},{"x":318,"y":300,"s":0.1},{"x":301,"y":316,"s":0.1},{"x":316,"y":301,"s":0.1},{"x":302,"y":318,"s":0.1},{"x":318,"y":302,"s":0.1},{"x":303,"y":319,"s":0.1},{"x":319,"y":303,"s":0.1},{"x":303,"y":316,"s":0.1},{"x":316,"y":303,"s":0.1},{"x":306,"y":316,"s":0.1},{"x":316,"y":306,"s":0.1},{"x":307,"y":315,"s":0.1},{"x":315,"y":307,"s":0.1},{"x":304,"y":311,"s":0.05},{"x":311,"y":304,"s":0.05},{"x":304,"y":313,"s":0.03},{"x":313,"y":304,"s":0.03},{"x":306,"y":312,"s":0.05},{"x":312,"y":306,"s":0.05},{"x":308,"y":314,"s":0.05},{"x":314,"y":308,"s":0.05},{"x":290,"y":330,"s":0},{"x":330,"y":290,"s":0},{"x":291,"y":330,"s":0},{"x":330,"y":291,"s":0},{"x":292,"y":330,"s":0},{"x":330,"y":292,"s":0},{"x":293,"y":330,"s":0},{"x":330,"y":293,"s":0},{"x":290,"y":329,"s":0},{"x":329,"y":290,"s":0},{"x":290,"y":327,"s":0},{"x":327,"y":290,"s":0},{"x":290,"y":326,"s":0},{"x":326,"y":290,"s":0},{"x":291,"y":328,"s":0},{"x":328,"y":291,"s":0},{"x":292,"y":323,"s":0.03},{"x":323,"y":292,"s":0.03},{"x":293,"y":325,"s":0},{"x":325,"y":293,"s":0},{"x":294,"y":324,"s":0},{"x":324,"y":294,"s":0},{"x":295,"y":322,"s":0.05},{"x":322,"y":295,"s":0.05},{"x":297,"y":322,"s":0},{"x":322,"y":297,"s":0},{"x":298,"y":322,"s":0},{"x":322,"y":298,"s":0},{"x":300,"y":322,"s":0},{"x":322,"y":300,"s":0},{"x":302,"y":321,"s":0.05},{"x":321,"y":302,"s":0.05},{"x":303,"y":322,"s":0},{"x":322,"y":303,"s":0},{"x":304,"y":323,"s":0},{"x":323,"y":304,"s":0},{"x":305,"y":323,"s":0},{"x":323,"y":305,"s":0},{"x":305,"y":321,"s":0},{"x":321,"y":305,"s":0},{"x":306,"y":323,"s":0},{"x":323,"y":306,"s":0},{"x":306,"y":320,"s":0.02},{"x":320,"y":306,"s":0.02},{"x":308,"y":320,"s":0.05},{"x":320,"y":308,"s":0.05},{"x":309,"y":317,"s":0.05},{"x":317,"y":309,"s":0.05},{"x":311,"y":319,"s":0},{"x":319,"y":311,"s":0},{"x":311,"y":317,"s":0},{"x":317,"y":311,"s":0},{"x":312,"y":320,"s":0},{"x":320,"y":312,"s":0},{"x":312,"y":318,"s":0},{"x":318,"y":312,"s":0},
{"x":290,"y":299,"s":0.03},{"x":299,"y":290,"s":0.03},{"x":292,"y":299,"s":0.03},{"x":299,"y":292,"s":0.03},{"x":275,"y":284,"s":0},{"x":284,"y":275,"s":0},{"x":276,"y":284,"s":0},{"x":284,"y":276,"s":0},{"x":278,"y":284,"s":0},{"x":284,"y":278,"s":0}
]},
"mark":{"type":"point","filled":true,"size":360,"opacity":1,"strokeWidth":0},
"encoding":{
"x":{"field":"x","type":"quantitative","scale":{"domain":[-13.7,387.7],"nice":false,"zero":false},"axis":{"values":[0,100,200,300],"grid":false,"domain":false,"tickColor":"black","tickWidth":3,"tickSize":11,"labelFont":"Liberation Sans","labelFontWeight":"bold","labelFontSize":60,"labelColor":"black","labelPadding":-4,"labelFlush":false,"labelOverlap":false,"title":"residue index","titleFont":"Liberation Sans","titleFontWeight":"bold","titleFontSize":60,"titleColor":"black","titlePadding":13}},
"y":{"field":"y","type":"quantitative","scale":{"domain":[-13.85,388],"nice":false,"zero":false},"axis":{"values":[0,100,200,300],"grid":false,"domain":false,"tickColor":"black","tickWidth":3,"tickSize":11,"labelFont":"Liberation Sans","labelFontWeight":"bold","labelFontSize":60,"labelColor":"black","labelAngle":-90,"labelAlign":"center","labelBaseline":"bottom","labelPadding":24,"labelFlush":false,"labelOverlap":false,"title":"residue index","titleFont":"Liberation Sans","titleFontWeight":"bold","titleFontSize":60,"titleColor":"black","titlePadding":14}},
"color":{"field":"s","type":"quantitative","scale":{"domain":[0,1],"range":["#a2a2a2","#000000"]},"legend":null}
}}
